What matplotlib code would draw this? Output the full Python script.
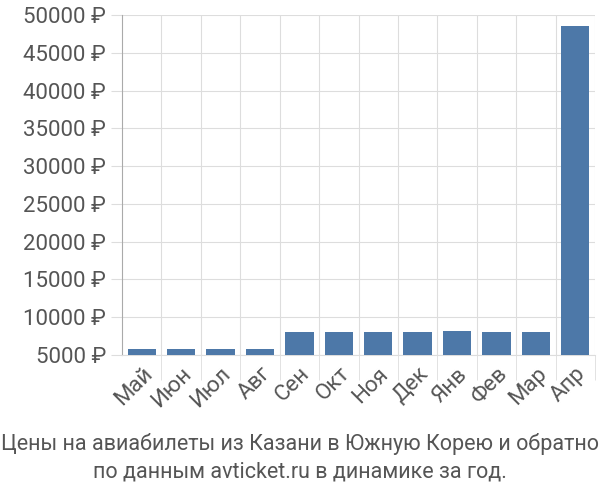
import matplotlib
matplotlib.use("Agg")
import matplotlib.pyplot as plt

months = ["Май","Июн","Июл","Авг","Сен","Окт","Ноя","Дек","Янв","Фев","Мар","Апр"]
prices = [5750, 5800, 5800, 5750, 8100, 8100, 8100, 8100, 8200, 8100, 8100, 48500]
yticks = [5000,10000,15000,20000,25000,30000,35000,40000,45000,50000]
title = "Цены на авиабилеты из Казани в Южную Корею и обратно\nпо данным avticket.ru в динамике за год."

plt.rcParams["font.family"] = ["Roboto", "DejaVu Sans"]
fig = plt.figure(figsize=(6,5), dpi=100)
ax = fig.add_axes([122/600, 1-355/500, 473/600, 340/500])
x = range(len(months))
ax.bar(x, prices, width=0.72, color="#4d78a8", zorder=3, bottom=0)
ax.set_ylim(5000, 50000)
ax.set_xlim(-0.5, len(months)-0.5)
ax.set_yticks(yticks)
ax.set_yticklabels([f"{v} ₽" for v in yticks], fontsize=16, color="#555555")
ax.set_xticks(list(x))
ax.set_xticklabels(months, rotation=45, ha="right", rotation_mode="anchor", fontsize=16, color="#555555")
ax.set_xticks([i+0.5 for i in x], minor=True)
ax.grid(True, which="major", axis="y", color="#dddddd", zorder=0)
ax.grid(True, which="minor", axis="x", color="#dddddd", zorder=0)
ax.tick_params(axis="x", which="major", length=0, pad=6)
ax.tick_params(axis="x", which="minor", length=18, color="#dddddd")
ax.tick_params(axis="y", length=8, color="#dddddd")
for s in ["top","right"]:
    ax.spines[s].set_visible(False)
ax.spines["left"].set_color("#aaaaaa")
ax.spines["bottom"].set_color("#dddddd")
fig.text(0.5, 0.035, title, ha="center", va="bottom", fontsize=15.5, color="#555555", linespacing=1.4)
fig.savefig("out.png")
